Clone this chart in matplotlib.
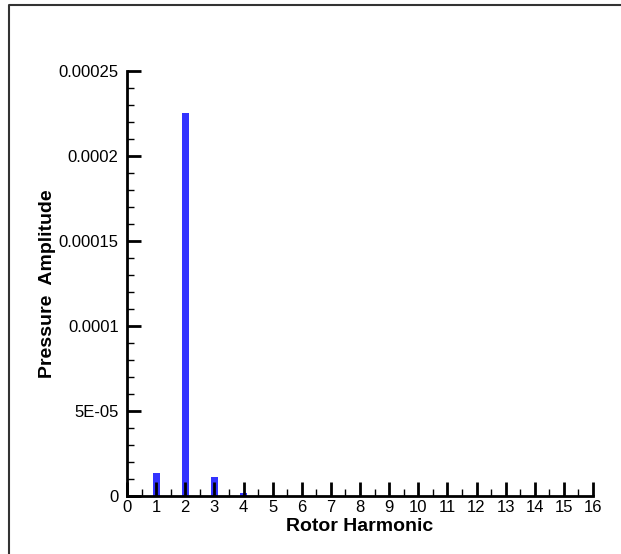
import matplotlib
matplotlib.use('Agg')
import matplotlib.pyplot as plt
from matplotlib.ticker import MultipleLocator, FixedLocator, FixedFormatter
from matplotlib.lines import Line2D

plt.rcParams['font.family'] = ['Liberation Sans', 'DejaVu Sans']

harmonics = [1, 2, 3, 4]
amplitude = [1.35e-5, 2.25e-4, 1.12e-5, 1.8e-6]
ytick_vals = [0, 5e-5, 1e-4, 1.5e-4, 2e-4, 2.5e-4]
ytick_labels = ['0', '5E-05', '0.0001', '0.00015', '0.0002', '0.00025']
xtick_vals = list(range(0, 17))

fig = plt.figure(figsize=(6.21, 5.54), dpi=100)
ax = fig.add_axes([127/621, 58/554, 466/621, 425/554])

ax.bar(harmonics, amplitude, width=0.24, color='#3333ff', zorder=1)

ax.set_xlim(0, 16)
ax.set_ylim(0, 2.5e-4)
ax.xaxis.set_major_locator(FixedLocator(xtick_vals))
ax.xaxis.set_minor_locator(MultipleLocator(0.5))
ax.yaxis.set_major_locator(FixedLocator(ytick_vals))
ax.yaxis.set_major_formatter(FixedFormatter(ytick_labels))
ax.yaxis.set_minor_locator(MultipleLocator(1e-5))

for s in ['top', 'right']:
    ax.spines[s].set_visible(False)
for s in ['left', 'bottom']:
    ax.spines[s].set_linewidth(2)

ax.tick_params(which='major', direction='in', length=10, width=2, labelsize=12, color='black')
ax.tick_params(which='minor', direction='in', length=5, width=1, color='black')
ax.tick_params(axis='x', which='major', pad=3)
ax.tick_params(axis='y', which='major', pad=6)

ax.set_xlabel('Rotor Harmonic', fontsize=14, fontweight='bold', labelpad=2)
ax.set_ylabel('Pressure  Amplitude', fontsize=14, fontweight='bold', labelpad=2)

# outer frame
fx = 8.5 / 621
fy = 1 - 4.5 / 554
fig.add_artist(Line2D([fx, fx, 1.0], [0, fy, fy], transform=fig.transFigure,
                      color='#333333', linewidth=1.5))

fig.savefig('out.png', dpi=100)
